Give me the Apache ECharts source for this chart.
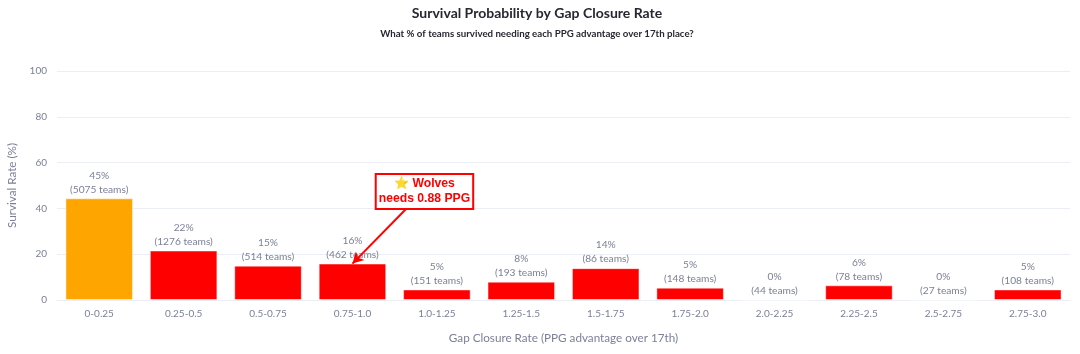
<!DOCTYPE html>
<html>
<head>
<meta charset="utf-8">
<style>
  html, body { margin: 0; padding: 0; background: #fff; }
  #chart { width: 1080px; height: 354px; }
</style>
<script src="https://cdn.jsdelivr.net/npm/echarts@6/dist/echarts.min.js"></script>
</head>
<body>
<div id="chart"></div>
<script>
const categories = ['0-0.25', '0.25-0.5', '0.5-0.75', '0.75-1.0', '1.0-1.25', '1.25-1.5', '1.5-1.75', '1.75-2.0', '2.0-2.25', '2.25-2.5', '2.5-2.75', '2.75-3.0']
const survival = [44.4, 21.6, 15, 15.9, 4.6, 8, 13.9, 5.4, 0, 6.4, 0, 4.6]
const pctLabels = [45, 22, 15, 16, 5, 8, 14, 5, 0, 6, 0, 5]
const teams = [5075, 1276, 514, 462, 151, 193, 86, 148, 44, 78, 27, 108]
const highlightIndex = 0
const yTicks = [0, 20, 40, 60, 80, 100]

const font = 'Lato, sans-serif'
const textColor = '#7b8098'

const chart = echarts.init(document.getElementById('chart'), null, { renderer: 'canvas' })

chart.setOption({
  animation: false,
  title: {
    text: 'Survival Probability by Gap Closure Rate',
    subtext: 'What % of teams survived needing each PPG advantage over 17th place?',
    left: 532,
    textAlign: 'center',
    top: 1,
    itemGap: 9,
    textStyle: { fontFamily: font, fontSize: 14, fontWeight: 'bold', color: '#262730' },
    subtextStyle: { fontFamily: font, fontSize: 9.7, fontWeight: 'bold', color: '#262730' }
  },
  grid: { left: 57, right: 10, top: 71, bottom: 54, outerBoundsMode: 'none' },
  xAxis: {
    type: 'category',
    data: categories,
    name: 'Gap Closure Rate (PPG advantage over 17th)',
    nameLocation: 'middle',
    nameGap: 32,
    nameTextStyle: { fontFamily: font, fontSize: 11.7, color: textColor },
    axisTick: { show: false },
    axisLine: { lineStyle: { color: '#eceef5', width: 1 } },
    axisLabel: { fontFamily: font, fontSize: 10, color: textColor, margin: 9 }
  },
  yAxis: {
    type: 'value',
    min: yTicks[0],
    max: yTicks[yTicks.length - 1],
    interval: yTicks[1] - yTicks[0],
    name: 'Survival Rate (%)',
    nameLocation: 'middle',
    nameGap: 38,
    nameTextStyle: { fontFamily: font, fontSize: 11.7, color: textColor },
    axisLine: { show: false },
    axisTick: { show: false },
    splitLine: { lineStyle: { color: '#eceef5', width: 1 } },
    axisLabel: { fontFamily: font, fontSize: 10, color: textColor, margin: 10 }
  },
  series: [
    {
      type: 'bar',
      barWidth: '80%',
      data: survival.map((v, i) => ({
        value: v,
        itemStyle: { color: i === highlightIndex ? '#ffa500' : '#ff0000' }
      })),
      itemStyle: { borderColor: 'rgba(255,255,255,0.45)', borderWidth: 1 },
      label: {
        show: true,
        position: 'top',
        distance: 2,
        fontFamily: font,
        fontSize: 10.2,
        lineHeight: 14,
        color: textColor,
        formatter: p => pctLabels[p.dataIndex] + '%\n(' + teams[p.dataIndex] + ' teams)'
      },
      markLine: {
        silent: true,
        animation: false,
        symbol: ['none', 'arrow'],
        symbolSize: [9, 11],
        label: { show: false },
        lineStyle: { color: '#ff0000', width: 2, type: 'solid' },
        data: [[{ x: 407, y: 208 }, { coord: ['0.75-1.0', 15.9] }]]
      },
      markPoint: {
        silent: true,
        animation: false,
        symbol: 'rect',
        symbolSize: 1,
        itemStyle: { color: 'rgba(0,0,0,0)' },
        data: [{
          coord: ['0.75-1.0', 15.9],
          label: {
            show: true,
            position: 'inside',
            offset: [72, -72],
            formatter: '⭐ Wolves\nneeds 0.88 PPG',
            fontFamily: '"Liberation Sans", sans-serif',
            fontSize: 12.2,
            fontWeight: 'bold',
            lineHeight: 15,
            color: '#ff0000',
            backgroundColor: '#ffffff',
            borderColor: '#ff0000',
            borderWidth: 2,
            padding: [2, 2, 1, 2]
          }
        }]
      }
    }
  ]
})

window.addEventListener('resize', () => chart.resize())
</script>
</body>
</html>
